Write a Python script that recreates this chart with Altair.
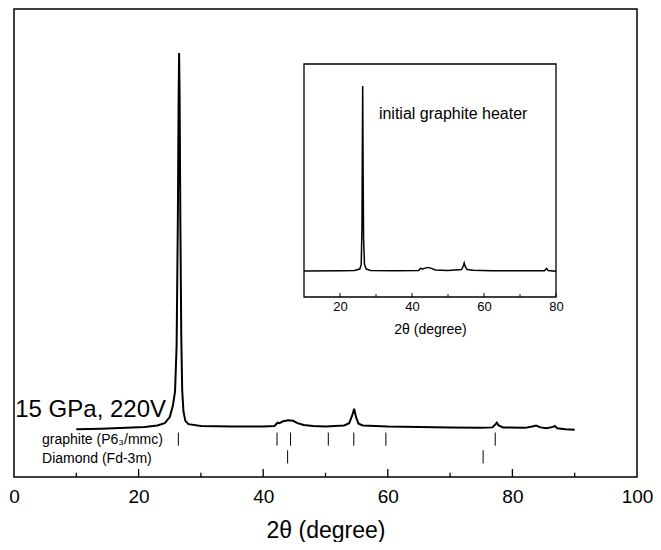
import altair as alt
import pandas as pd

FONT = "Liberation Sans"

# ---- main XRD pattern (15 GPa, 220V) ----
theta_main = [10, 14, 18, 21, 23, 24.2, 25.0, 25.5, 25.85, 26.1, 26.3, 26.42, 26.5, 26.58,
              26.7, 26.85, 27.0, 27.2, 27.5, 28, 30, 35, 40, 41.8, 42.3, 42.6, 43.2, 44.0,
              44.8, 45.5, 46.5, 48, 50, 53, 53.8, 54.3, 54.6, 54.9, 55.3, 56, 60, 65, 70,
              75, 76.8, 77.3, 77.5, 77.8, 78.5, 82, 83.2, 83.8, 84.5, 85.5, 86.5, 86.8,
              87.2, 88.5, 90]
int_main = [10.2, 10.3, 10.5, 10.7, 11.0, 11.5, 12.8, 15.2, 18.3, 28, 55, 80, 90.6, 82,
            55, 30, 18.5, 14.0, 12.0, 11.3, 10.9, 10.8, 10.8, 10.9, 11.6, 11.5, 11.9, 12.1,
            12.0, 11.5, 11.1, 10.9, 10.8, 11.0, 11.5, 13.2, 14.6, 12.8, 11.4, 11.0, 10.8,
            10.7, 10.6, 10.5, 10.6, 11.3, 11.6, 11.0, 10.6, 10.5, 10.8, 11.0, 10.6, 10.4,
            10.7, 10.9, 10.4, 10.2, 10.1]

# ---- inset pattern (initial graphite heater) ----
theta_inset = [10, 20, 24, 25.5, 25.9, 26.1, 26.2, 26.3, 26.4, 26.55, 26.8, 27.3, 28.5, 35,
               41.8, 42.4, 43, 44.3, 45.2, 46.5, 50, 53.8, 54.3, 54.5, 54.8, 55.3, 57, 62,
               70, 76.8, 77.4, 77.8, 80]
int_inset = [11.2, 11.3, 11.4, 12.0, 14, 30, 60, 90.6, 60, 25, 14, 12, 11.4, 11.3,
             11.4, 12.3, 12.0, 12.7, 12.4, 11.6, 11.4, 11.8, 13.5, 14.6, 13.0, 11.8, 11.5, 11.3,
             11.3, 11.3, 12.3, 11.4, 11.1]

# ---- reference reflections ----
graphite_pos = [26.38, 42.22, 44.39, 50.45, 54.54, 59.69, 77.24]
diamond_pos = [43.92, 75.30]

# ---- ticks ----
main_tick_labels = [0, 20, 40, 60, 80, 100]
main_major_ticks = [20, 40, 60, 80]
main_minor_ticks = [10, 30, 50, 70, 90]
inset_tick_labels = [20, 40, 60, 80]
inset_major_ticks = [20, 40, 60, 80]
inset_minor_ticks = [30, 50, 70]


def xs_main():
    return alt.Scale(domain=[0, 100], nice=False, zero=False)


def ys_main():
    return alt.Scale(domain=[0, 100], nice=False, zero=False)


def xs_in():
    return alt.Scale(domain=[10, 80], range=[290, 542], nice=False, zero=False)


def ys_in():
    return alt.Scale(domain=[0, 100], range=[288, 55], nice=False, zero=False)


def one():
    return pd.DataFrame({"k": [0]})


def xf(field, sc):
    return alt.X(field, type="quantitative", scale=sc, axis=None)


def yd(v, sc):
    return alt.YDatum(v, scale=sc, axis=None)


def xd(v, sc):
    return alt.XDatum(v, scale=sc, axis=None)


layers = []

# ================= main panel =================
layers.append(alt.Chart(pd.DataFrame({"theta": theta_main, "I": int_main})).mark_line(
    color="black", strokeWidth=2
).encode(
    x=alt.X("theta:Q", scale=xs_main(),
            axis=alt.Axis(values=main_tick_labels, ticks=False, domain=False, grid=False,
                          labelFlush=False, labelFontSize=19, labelPadding=10,
                          labelColor="black", labelFont=FONT,
                          title="2θ (degree)", titleFontSize=23, titleFontWeight="normal",
                          titlePadding=13, titleColor="black", titleFont=FONT)),
    y=alt.Y("I:Q", scale=ys_main(), axis=None),
))

layers.append(alt.Chart(pd.DataFrame({"v": main_major_ticks})).mark_rule(
    color="black", strokeWidth=1.3).encode(
    x=xf("v", xs_main()), y=yd(0, ys_main()), y2=alt.datum(1.7)))
layers.append(alt.Chart(pd.DataFrame({"v": main_minor_ticks})).mark_rule(
    color="black", strokeWidth=1.3).encode(
    x=xf("v", xs_main()), y=yd(0, ys_main()), y2=alt.datum(0.9)))

layers.append(alt.Chart(pd.DataFrame({"v": graphite_pos})).mark_rule(
    color="black", strokeWidth=1).encode(
    x=xf("v", xs_main()), y=yd(9.5, ys_main()), y2=alt.datum(6.7)))
layers.append(alt.Chart(pd.DataFrame({"v": diamond_pos})).mark_rule(
    color="black", strokeWidth=1).encode(
    x=xf("v", xs_main()), y=yd(5.7, ys_main()), y2=alt.datum(2.9)))

layers.append(alt.Chart(one()).mark_text(
    text="15 GPa, 220V", align="left", baseline="alphabetic", fontSize=24, font=FONT,
    color="black").encode(x=xd(0.2, xs_main()), y=yd(12.8, ys_main())))
layers.append(alt.Chart(one()).mark_text(
    text="graphite (P6₃/mmc)", align="left", baseline="middle", fontSize=14, font=FONT,
    color="black").encode(x=xd(4.5, xs_main()), y=yd(7.9, ys_main())))
layers.append(alt.Chart(one()).mark_text(
    text="Diamond (Fd-3m)", align="left", baseline="middle", fontSize=14, font=FONT,
    color="black").encode(x=xd(4.5, xs_main()), y=yd(3.9, ys_main())))

# ================= inset =================
layers.append(alt.Chart(one()).mark_rect(
    fill="white", stroke="black", strokeWidth=1.3).encode(
    x=xd(10, xs_in()), x2=alt.datum(80),
    y=yd(0, ys_in()), y2=alt.datum(100)))

layers.append(alt.Chart(pd.DataFrame({"theta": theta_inset, "I": int_inset})).mark_line(
    color="black", strokeWidth=1.5
).encode(
    x=alt.X("theta:Q", scale=xs_in(),
            axis=alt.Axis(orient="bottom", offset=-180, values=inset_tick_labels,
                          ticks=False, domain=False, grid=False, labelFlush=False,
                          labelFontSize=13, labelPadding=3, labelColor="black",
                          labelFont=FONT, title="2θ (degree)", titleFontSize=14,
                          titleFontWeight="normal", titlePadding=9, titleColor="black",
                          titleFont=FONT)),
    y=alt.Y("I:Q", scale=ys_in(), axis=None),
))

layers.append(alt.Chart(pd.DataFrame({"v": inset_major_ticks})).mark_rule(
    color="black", strokeWidth=1).encode(
    x=xf("v", xs_in()), y=yd(0, ys_in()), y2=alt.datum(1.7)))
layers.append(alt.Chart(pd.DataFrame({"v": inset_minor_ticks})).mark_rule(
    color="black", strokeWidth=1).encode(
    x=xf("v", xs_in()), y=yd(0, ys_in()), y2=alt.datum(1.3)))

layers.append(alt.Chart(one()).mark_text(
    text="initial graphite heater", align="left", baseline="middle", fontSize=16,
    font=FONT, color="black").encode(x=xd(30.8, xs_in()), y=yd(78.5, ys_in())))

chart = alt.layer(*layers).resolve_scale(
    x="independent", y="independent"
).properties(
    width=623, height=468,
    autosize=alt.AutoSizeParams(type="none"),
    padding={"left": 6, "top": 1, "right": 16, "bottom": 65},
    background="white",
).configure_view(stroke="black", strokeWidth=1.5)

chart.save("out.html", embed_options={"renderer": "svg", "actions": False})
